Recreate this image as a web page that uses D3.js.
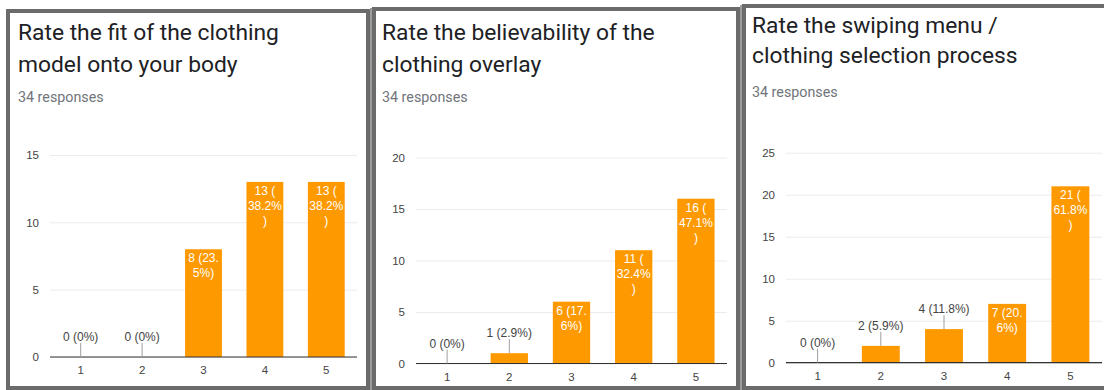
<!DOCTYPE html>
<html>
<head>
<meta charset="utf-8">
<script src="https://cdn.jsdelivr.net/npm/d3@7"></script>
<style>
  body { margin: 0; background: #fff; }
  svg { display: block; }
  .title { font-family: Roboto, "Noto Sans", sans-serif; font-size: 22.8px; fill: #202124; }
  .resp { font-family: Roboto, "Noto Sans", sans-serif; font-size: 14.3px; fill: #70757a; }
  .grid line { stroke: #ebebeb; }
  .grid text, .xaxis text { font-family: "Liberation Sans", Arial, sans-serif; font-size: 11.5px; fill: #444; }
  .bar { fill: #ff9900; }
  .lbl { font-family: "Liberation Sans", Arial, sans-serif; font-size: 12px; }
</style>
</head>
<body>
<div id="chart"></div>
<script>
const ratings = ["1", "2", "3", "4", "5"]
const responses = 34

const fitTitle = ["Rate the fit of the clothing", "model onto your body"]
const fitCounts = [0, 0, 8, 13, 13]
const fitTicks = [0, 5, 10, 15]

const overlayTitle = ["Rate the believability of the", "clothing overlay"]
const overlayCounts = [0, 1, 6, 11, 16]
const overlayTicks = [0, 5, 10, 15, 20]

const swipeTitle = ["Rate the swiping menu /", "clothing selection process"]
const swipeCounts = [0, 2, 4, 7, 21]
const swipeTicks = [0, 5, 10, 15, 20, 25]

// screenshot panels are slightly offset from each other
const panels = [
  { title: fitTitle, counts: fitCounts, ticks: fitTicks,
    box: [8, 11, 368, 388], textX: 18, titleY: [40, 72], respY: 102,
    plot: { left: 50, right: 357, top: 155, bottom: 357 } },
  { title: overlayTitle, counts: overlayCounts, ticks: overlayTicks,
    box: [374, 9, 738, 388], textX: 382, titleY: [40, 72], respY: 102,
    plot: { left: 416, right: 727, top: 157.5, bottom: 363.5 } },
  { title: swipeTitle, counts: swipeCounts, ticks: swipeTicks,
    box: [744, 6, 1108, 388], textX: 752, titleY: [33, 63], respY: 97,
    plot: { left: 786, right: 1102, top: 152.7, bottom: 362.7 } }
]

const svg = d3.select("#chart").append("svg")
  .attr("width", 1104)
  .attr("height", 390)

svg.append("rect").attr("width", 1104).attr("height", 390).attr("fill", "#fff")

// thin light seams between the cards
svg.append("rect").attr("x", 370).attr("y", 8).attr("width", 2).attr("height", 382).attr("fill", "#9c9c9c")
svg.append("rect").attr("x", 740).attr("y", 5).attr("width", 2).attr("height", 385).attr("fill", "#9c9c9c")

const measurer = svg.append("text").attr("class", "lbl").attr("x", -100).attr("y", -100)
function textWidth(s) {
  measurer.text(s)
  return measurer.node().getComputedTextLength()
}

// break after space, "(", "." or "%" like the forms chart does
function wrap(label, maxW) {
  const parts = label.match(/[^ (.%]*[ (.%]?/g).filter(p => p.length)
  const lines = []
  let cur = ""
  parts.forEach(p => {
    if (cur && textWidth((cur + p).trim()) > maxW) {
      lines.push(cur.trim())
      cur = p
    } else {
      cur += p
    }
  })
  if (cur) lines.push(cur.trim())
  return lines
}

function pct(v) {
  return v === 0 ? "0%" : (v / responses * 100).toFixed(1) + "%"
}

panels.forEach(p => {
  const g = svg.append("g")

  g.append("rect")
    .attr("x", p.box[0]).attr("y", p.box[1])
    .attr("width", p.box[2] - p.box[0]).attr("height", p.box[3] - p.box[1])
    .attr("fill", "#fff")
    .attr("stroke", "#6b6b6b")
    .attr("stroke-width", 4)

  g.selectAll(".title").data(p.title).enter().append("text")
    .attr("class", "title")
    .attr("x", p.textX)
    .attr("y", (d, i) => p.titleY[i])
    .text(d => d)

  g.append("text")
    .attr("class", "resp")
    .attr("x", p.textX)
    .attr("y", p.respY)
    .text(responses + " responses")

  const pl = p.plot
  const x = d3.scaleBand()
    .domain(ratings)
    .range([pl.left, pl.right])
    .paddingInner(0.4)
    .paddingOuter(0.2)

  const y = d3.scaleLinear()
    .domain([0, d3.max(p.ticks)])
    .range([pl.bottom, pl.top])

  // Y gridlines + labels
  g.append("g")
    .attr("class", "grid")
    .attr("transform", "translate(" + pl.left + ",0)")
    .call(d3.axisLeft(y)
      .tickValues(p.ticks)
      .tickSize(-(pl.right - pl.left))
      .tickPadding(11)
      .tickFormat(d3.format("d")))
    .call(a => a.select(".domain").remove())

  g.append("g")
    .attr("class", "xaxis")
    .attr("transform", "translate(0," + pl.bottom + ")")
    .call(d3.axisBottom(x).tickSize(0).tickPadding(9))
    .call(a => a.select(".domain").remove())

  const data = ratings.map((r, i) => ({ r: r, v: p.counts[i] }))

  g.selectAll(".bar").data(data).enter().append("rect")
    .attr("class", "bar")
    .attr("x", d => x(d.r))
    .attr("y", d => y(d.v))
    .attr("width", x.bandwidth())
    .attr("height", d => y(0) - y(d.v))

  g.append("line")
    .attr("x1", pl.left).attr("x2", pl.right)
    .attr("y1", y(0)).attr("y2", y(0))
    .attr("stroke", "#333")
    .attr("stroke-width", 1.2)

  data.forEach(d => {
    const label = d.v + " (" + pct(d.v) + ")"
    const cx = x(d.r) + x.bandwidth() / 2
    const top = y(d.v)
    const lines = wrap(label, 35.5)
    if (y(0) - top > lines.length * 15 + 8) {
      g.append("text")
        .attr("class", "lbl")
        .attr("fill", "#fff")
        .attr("text-anchor", "middle")
        .selectAll("tspan").data(lines).enter().append("tspan")
        .attr("x", cx)
        .attr("y", (t, i) => top + 13 + i * 15)
        .text(t => t)
    } else {
      g.append("line")
        .attr("x1", cx).attr("x2", cx)
        .attr("y1", top - 14).attr("y2", top)
        .attr("stroke", "#9e9e9e")
        .attr("stroke-width", 1)
      g.append("text")
        .attr("class", "lbl")
        .attr("fill", "#444")
        .attr("text-anchor", "middle")
        .attr("x", cx)
        .attr("y", top - 16)
        .text(label)
    }
  })
})

measurer.remove()
</script>
</body>
</html>
